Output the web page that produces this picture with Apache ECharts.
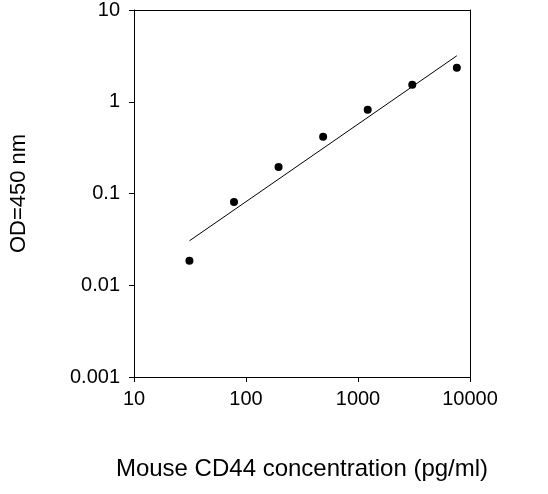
<!DOCTYPE html>
<html>
<head>
<meta charset="utf-8">
<script src="https://cdn.jsdelivr.net/npm/echarts@6/dist/echarts.min.js"></script>
<style>html,body{margin:0;padding:0;background:#fff}#chart{width:548px;height:494px}</style>
</head>
<body>
<div id="chart"></div>
<script>
var concentration = [31.25, 78.125, 195.3, 488.3, 1220.7, 3051.8, 7629.4];
var od = [0.0185, 0.081, 0.195, 0.415, 0.82, 1.53, 2.35];
var fitX = [31.25, 7629.4];
var fitY = [0.0305, 3.17];

var myChart = echarts.init(document.getElementById('chart'));
var font = 'Liberation Sans, Arial, sans-serif';
var axisLine = {show: true, lineStyle: {color: '#000', width: 1}};
function plain(v) { return String(+v.toPrecision(3)); }
option = {
    animation: false,
    grid: {left: 125, right: 78, top: 10, bottom: 117},
    xAxis: [{
        type: 'log', logBase: 10, min: 10, max: 10000,
        axisLine: axisLine,
        axisTick: {show: true, length: 5, lineStyle: {color: '#000'}},
        splitLine: {show: false},
        axisLabel: {color: '#000', fontSize: 20, fontFamily: font, margin: 12, formatter: plain},
        name: 'Mouse CD44 concentration (pg/ml)', nameLocation: 'middle', nameGap: 80,
        nameTextStyle: {color: '#000', fontSize: 24, fontFamily: font}
    }, {
        type: 'log', logBase: 10, min: 10, max: 10000, position: 'top',
        axisLine: axisLine, axisTick: {show: false}, axisLabel: {show: false}, splitLine: {show: false}
    }],
    yAxis: [{
        type: 'log', logBase: 10, min: 0.001, max: 10,
        axisLine: axisLine,
        axisTick: {show: true, length: 5, lineStyle: {color: '#000'}},
        splitLine: {show: false},
        axisLabel: {color: '#000', fontSize: 20, fontFamily: font, margin: 14, formatter: plain},
        name: 'OD=450 nm', nameLocation: 'middle', nameGap: 104,
        nameTextStyle: {color: '#000', fontSize: 22, fontFamily: font}
    }, {
        type: 'log', logBase: 10, min: 0.001, max: 10, position: 'right',
        axisLine: axisLine, axisTick: {show: false}, axisLabel: {show: false}, splitLine: {show: false}
    }],
    series: [{
        type: 'line',
        data: fitX.map(function (x, i) { return [x, fitY[i]]; }),
        showSymbol: false,
        lineStyle: {color: '#000', width: 1}
    }, {
        type: 'scatter',
        data: concentration.map(function (x, i) { return [x, od[i]]; }),
        symbolSize: 8,
        itemStyle: {color: '#000', opacity: 1}
    }]
};
myChart.setOption(option);
</script>
</body>
</html>
